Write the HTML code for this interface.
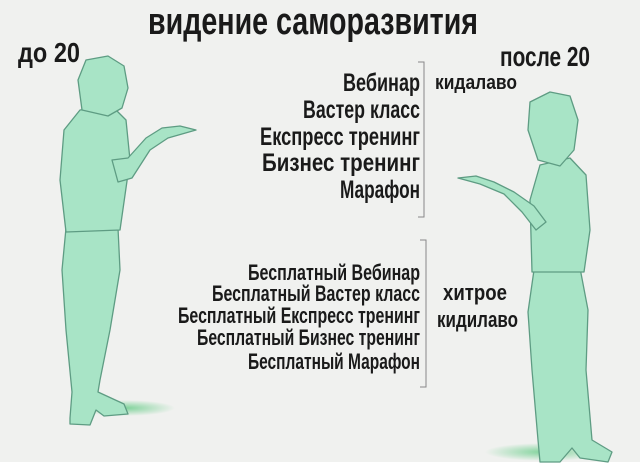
<!DOCTYPE html>
<html><head><meta charset="utf-8"><style>
html,body{margin:0;padding:0;background:#f0f1ef}
svg{display:block}
text{font-family:"Liberation Sans","Noto Sans CJK SC",sans-serif;font-weight:bold;fill:#1a1a1a}
</style></head><body>
<svg width="640" height="473" viewBox="0 0 640 473" xmlns="http://www.w3.org/2000/svg">
<rect width="640" height="473" fill="#f0f1ef"/>
<rect x="0" y="462" width="640" height="11" fill="#ffffff"/>
<defs>
<radialGradient id="sh"><stop offset="0" stop-color="#7fd39a"/><stop offset="1" stop-color="#7fd39a" stop-opacity="0"/></radialGradient>
</defs>
<ellipse cx="125" cy="408" rx="50" ry="8" fill="url(#sh)"/>
<ellipse cx="545" cy="452" rx="60" ry="9" fill="url(#sh)"/>
<!-- left man -->
<g fill="#a8e4c6" stroke="#5e9c83" stroke-width="1.3" stroke-linejoin="round">
<path d="M70 418 L72 392 L66 330 L62 270 L66 228 L75 225 L118 228 L120 270 L110 330 L100 380 L98 392 L124 404 L128 414 L104 416 L96 410 L90 425 L70 424 Z"/>
<path d="M66 232 L60 180 L64 130 L80 110 L112 106 L126 120 L130 160 L120 230 Z"/>
<path d="M112 160 L118 182 L132 178 L150 150 L168 138 L196 130 L180 126 L162 128 L146 138 L128 158 Z"/>
<path d="M82 110 L78 80 L86 60 L108 56 L124 66 L128 88 L122 108 L108 116 Z"/>
</g>
<!-- right man -->
<g fill="#a8e4c6" stroke="#5e9c83" stroke-width="1.3" stroke-linejoin="round">
<path d="M540 462 L538 440 L532 370 L528 312 L534 270 L580 268 L588 310 L586 370 L592 440 L612 452 L608 462 L580 458 L572 448 L560 462 Z"/>
<path d="M532 272 L530 200 L540 165 L570 158 L586 175 L590 230 L584 272 Z"/>
<path d="M546 222 L536 230 L522 212 L504 194 L480 184 L458 178 L476 176 L494 182 L514 192 L534 206 Z"/>
<path d="M538 160 L528 130 L530 102 L550 92 L570 96 L578 120 L574 150 L560 166 Z"/>
</g>
<text x="148" y="34" font-size="38" textLength="330" lengthAdjust="spacingAndGlyphs">видение саморазвития</text>
<text x="18" y="62" font-size="28" textLength="62" lengthAdjust="spacingAndGlyphs">до 20</text>
<text x="500" y="66" font-size="28" textLength="90" lengthAdjust="spacingAndGlyphs">после 20</text>
<g font-size="25">
<text x="343" y="91" textLength="77" lengthAdjust="spacingAndGlyphs">Вебинар</text>
<text x="303" y="118" textLength="117" lengthAdjust="spacingAndGlyphs">Вастер класс</text>
<text x="260" y="145" textLength="160" lengthAdjust="spacingAndGlyphs">Експресс тренинг</text>
<text x="262" y="171" textLength="158" lengthAdjust="spacingAndGlyphs">Бизнес тренинг</text>
<text x="340" y="198" textLength="80" lengthAdjust="spacingAndGlyphs">Марафон</text>
</g>
<path d="M418 62 H424 V217 H418" fill="none" stroke="#888" stroke-width="1"/>
<text x="435" y="89" font-size="20" textLength="82" lengthAdjust="spacingAndGlyphs">кидалаво</text>
<g font-size="22">
<text x="248" y="280" textLength="172" lengthAdjust="spacingAndGlyphs">Бесплатный Вебинар</text>
<text x="212" y="301" textLength="208" lengthAdjust="spacingAndGlyphs">Бесплатный Вастер класс</text>
<text x="178" y="323" textLength="242" lengthAdjust="spacingAndGlyphs">Бесплатный Експресс тренинг</text>
<text x="197" y="345" textLength="223" lengthAdjust="spacingAndGlyphs">Бесплатный Бизнес тренинг</text>
<text x="248" y="369" textLength="172" lengthAdjust="spacingAndGlyphs">Бесплатный Марафон</text>
</g>
<path d="M420 240 H426 V387 H420" fill="none" stroke="#888" stroke-width="1"/>
<text x="443" y="300" font-size="22" textLength="64" lengthAdjust="spacingAndGlyphs">хитрое</text>
<text x="437" y="327" font-size="22" textLength="81" lengthAdjust="spacingAndGlyphs">кидилаво</text>
</svg>
</body></html>
